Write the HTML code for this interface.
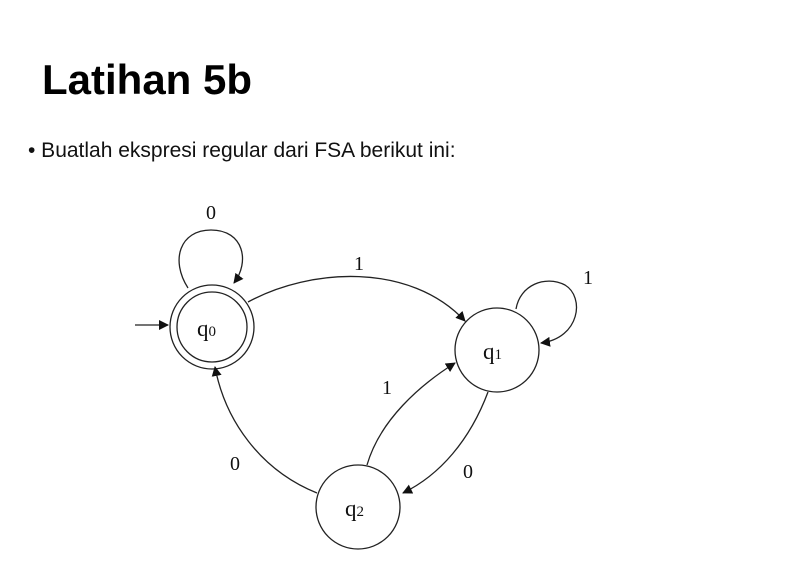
<!DOCTYPE html>
<html><head><meta charset="utf-8"><style>
html,body{margin:0;padding:0;background:#fff;width:808px;height:582px;overflow:hidden;font-family:"Liberation Sans",sans-serif}
#title{position:absolute;left:42px;top:56px;font-size:42px;font-weight:bold;color:#000;margin:0}
#bullet{position:absolute;left:28px;top:139px;font-size:21px;color:#111}
svg{position:absolute;left:0;top:0}
text{font-family:"Liberation Serif",serif;fill:#111}
</style></head><body>
<h1 id="title">Latihan 5b</h1>
<div id="bullet">• Buatlah ekspresi regular dari FSA berikut ini:</div>
<svg width="808" height="582">
<defs><marker id="ah" markerWidth="10" markerHeight="10" refX="9" refY="5" orient="auto" markerUnits="userSpaceOnUse"><path d="M0,0 L10,5 L0,10 z" fill="#111"/></marker></defs>
<g stroke="#222" stroke-width="1.3" fill="none">
<circle cx="212" cy="327" r="42"/>
<circle cx="212" cy="327" r="35"/>
<circle cx="497" cy="350" r="42"/>
<circle cx="358" cy="507" r="42"/>
<line x1="135" y1="325" x2="168" y2="325" marker-end="url(#ah)"/>
<path d="M188,288 C170,260 180,230 211,230 C244,230 250,262 234,283" marker-end="url(#ah)"/>
<path d="M248,302 C310,268 410,262 465,321" marker-end="url(#ah)"/>
<path d="M516,309 C520,285 545,275 565,285 C585,297 580,338 541,343" marker-end="url(#ah)"/>
<path d="M367,465 C380,420 420,385 455,363" marker-end="url(#ah)"/>
<path d="M488,392 C470,440 440,475 403,493" marker-end="url(#ah)"/>
<path d="M317,493 C260,470 225,420 215,367" marker-end="url(#ah)"/>
</g>
<g font-size="23">
<text x="197" y="336">q<tspan font-size="15">0</tspan></text>
<text x="483" y="359">q<tspan font-size="15">1</tspan></text>
<text x="345" y="516">q<tspan font-size="15">2</tspan></text>
</g>
<g font-size="20" text-anchor="middle">
<text x="211" y="219">0</text>
<text x="359" y="270">1</text>
<text x="588" y="284">1</text>
<text x="387" y="394">1</text>
<text x="468" y="478">0</text>
<text x="235" y="470">0</text>
</g>
</svg>
</body></html>
